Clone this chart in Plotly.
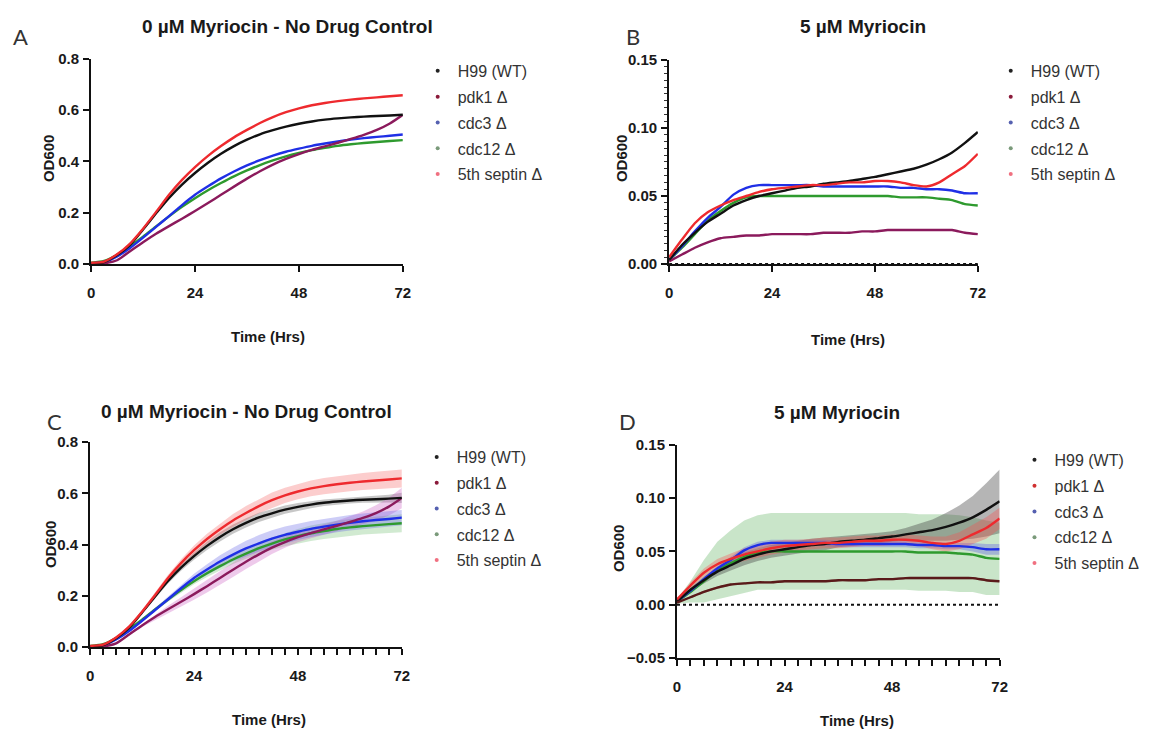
import numpy as np
import plotly.graph_objects as go

W, H = 1165, 751

hours = [0, 3, 6, 9, 12, 15, 18, 21, 24, 27, 30, 33, 36, 39, 42, 45, 48, 51, 54, 57, 60, 63, 66, 69, 72]
strains = ["H99 (WT)", "pdk1 Δ", "cdc3 Δ", "cdc12 Δ", "5th septin Δ"]

# ---- 0 µM Myriocin (panels A and C), mean OD600 ----
ctrl_h99 = [0.003, 0.008, 0.035, 0.075, 0.135, 0.198, 0.258, 0.31, 0.355, 0.395, 0.43, 0.46, 0.485, 0.506, 0.522, 0.536, 0.547, 0.556, 0.563, 0.568, 0.572, 0.575, 0.577, 0.579, 0.582]
ctrl_pdk1 = [0.0, 0.003, 0.015, 0.05, 0.085, 0.118, 0.148, 0.177, 0.207, 0.238, 0.27, 0.302, 0.333, 0.362, 0.388, 0.41, 0.429, 0.445, 0.459, 0.473, 0.488, 0.504, 0.523, 0.548, 0.582]
ctrl_cdc3 = [0.003, 0.008, 0.03, 0.063, 0.103, 0.145, 0.187, 0.23, 0.27, 0.303, 0.334, 0.361, 0.385, 0.405, 0.423, 0.438, 0.45, 0.461, 0.47, 0.478, 0.485, 0.491, 0.496, 0.5, 0.505]
ctrl_cdc12 = [0.005, 0.012, 0.036, 0.07, 0.107, 0.147, 0.186, 0.223, 0.257, 0.288, 0.316, 0.342, 0.365, 0.386, 0.404, 0.42, 0.433, 0.444, 0.453, 0.461, 0.467, 0.472, 0.476, 0.48, 0.483]
ctrl_septin5 = [0.005, 0.01, 0.038, 0.08, 0.138, 0.203, 0.27, 0.328, 0.378, 0.422, 0.46, 0.494, 0.523, 0.55, 0.573, 0.592, 0.607, 0.619, 0.628, 0.635, 0.641, 0.646, 0.65, 0.654, 0.658]

# ---- 0 µM Myriocin, SD (panel C bands) ----
ctrl_h99_sd = [0, 0, 0.002, 0.004, 0.006, 0.008, 0.01, 0.012, 0.014, 0.016, 0.018, 0.018, 0.018, 0.018, 0.017, 0.016, 0.015, 0.014, 0.013, 0.012, 0.012, 0.012, 0.013, 0.015, 0.02]
ctrl_pdk1_sd = [0, 0, 0.002, 0.004, 0.006, 0.01, 0.014, 0.018, 0.022, 0.025, 0.027, 0.028, 0.028, 0.027, 0.025, 0.022, 0.02, 0.02, 0.02, 0.02, 0.022, 0.025, 0.03, 0.035, 0.04]
ctrl_cdc3_sd = [0, 0, 0.002, 0.004, 0.006, 0.008, 0.01, 0.013, 0.016, 0.02, 0.024, 0.027, 0.03, 0.032, 0.033, 0.033, 0.032, 0.031, 0.03, 0.03, 0.03, 0.03, 0.03, 0.03, 0.03]
ctrl_cdc12_sd = [0, 0, 0.002, 0.003, 0.005, 0.006, 0.008, 0.01, 0.012, 0.014, 0.016, 0.018, 0.02, 0.022, 0.024, 0.026, 0.028, 0.03, 0.031, 0.032, 0.033, 0.033, 0.034, 0.034, 0.035]
ctrl_septin5_sd = [0, 0, 0.002, 0.004, 0.007, 0.01, 0.012, 0.015, 0.018, 0.02, 0.022, 0.025, 0.027, 0.028, 0.03, 0.03, 0.03, 0.031, 0.032, 0.032, 0.033, 0.033, 0.034, 0.034, 0.035]

# ---- 5 µM Myriocin (panels B and D), mean OD600 ----
myr_h99 = [0.003, 0.014, 0.023, 0.031, 0.037, 0.043, 0.047, 0.05, 0.052, 0.054, 0.056, 0.057, 0.059, 0.06, 0.061, 0.0625, 0.064, 0.066, 0.068, 0.07, 0.073, 0.077, 0.082, 0.089, 0.097]
myr_pdk1 = [0.002, 0.007, 0.012, 0.016, 0.019, 0.02, 0.021, 0.021, 0.022, 0.022, 0.022, 0.022, 0.023, 0.023, 0.023, 0.024, 0.024, 0.025, 0.025, 0.025, 0.025, 0.025, 0.025, 0.023, 0.022]
myr_cdc3 = [0.003, 0.013, 0.024, 0.034, 0.042, 0.051, 0.056, 0.058, 0.058, 0.058, 0.058, 0.058, 0.057, 0.057, 0.057, 0.057, 0.057, 0.057, 0.056, 0.056, 0.055, 0.055, 0.054, 0.052, 0.052]
myr_cdc12 = [0.003, 0.012, 0.022, 0.032, 0.039, 0.045, 0.049, 0.05, 0.05, 0.05, 0.05, 0.05, 0.05, 0.05, 0.05, 0.05, 0.05, 0.05, 0.049, 0.049, 0.049, 0.048, 0.047, 0.044, 0.043]
myr_septin5 = [0.005, 0.018, 0.03, 0.038, 0.043, 0.047, 0.05, 0.053, 0.055, 0.056, 0.057, 0.058, 0.058, 0.059, 0.06, 0.06, 0.061, 0.061, 0.06, 0.058, 0.057, 0.06, 0.066, 0.072, 0.081]

# ---- 5 µM Myriocin, SD (panel D bands) ----
myr_h99_sd = [0, 0.002, 0.003, 0.004, 0.005, 0.006, 0.006, 0.006, 0.006, 0.006, 0.006, 0.006, 0.005, 0.005, 0.005, 0.005, 0.005, 0.006, 0.008, 0.01, 0.013, 0.016, 0.02, 0.025, 0.03]
myr_pdk1_sd = [0, 0.001, 0.001, 0.001, 0.001, 0.001, 0.001, 0.001, 0.001, 0.001, 0.001, 0.001, 0.001, 0.001, 0.001, 0.001, 0.001, 0.001, 0.001, 0.001, 0.001, 0.001, 0.001, 0.001, 0.001]
myr_cdc3_sd = [0, 0.001, 0.002, 0.002, 0.003, 0.003, 0.003, 0.003, 0.003, 0.003, 0.003, 0.003, 0.003, 0.003, 0.003, 0.003, 0.003, 0.003, 0.003, 0.003, 0.003, 0.003, 0.004, 0.005, 0.005]
myr_cdc12_sd = [0.002, 0.01, 0.02, 0.027, 0.031, 0.034, 0.035, 0.036, 0.036, 0.036, 0.036, 0.036, 0.036, 0.036, 0.036, 0.036, 0.036, 0.036, 0.036, 0.036, 0.036, 0.036, 0.035, 0.035, 0.034]
myr_septin5_sd = [0, 0.003, 0.004, 0.005, 0.005, 0.006, 0.006, 0.006, 0.006, 0.005, 0.005, 0.005, 0.005, 0.005, 0.005, 0.005, 0.005, 0.005, 0.005, 0.006, 0.007, 0.008, 0.009, 0.01, 0.01]

x_ticks = [0, 24, 48, 72]
y_ticks_ctrl = [0.0, 0.2, 0.4, 0.6, 0.8]
y_ticks_myr = [0.0, 0.05, 0.10, 0.15]
y_ticks_myr_d = [-0.05, 0.0, 0.05, 0.10, 0.15]

line_colors = ["#111111", "#8b1a5c", "#1f2fe6", "#2e9a2e", "#ee2a2e"]
line_colors_d = ["#111111", "#5a1a1a", "#1f2fe6", "#2e9a2e", "#ee2a2e"]
band_colors = ["rgba(70,70,70,0.30)", "rgba(200,80,190,0.30)", "rgba(90,90,230,0.30)",
               "rgba(70,170,70,0.25)", "rgba(245,90,90,0.30)"]
band_colors_d = ["rgba(70,70,70,0.40)", "rgba(90,30,30,0.35)", "rgba(90,90,230,0.35)",
                 "rgba(120,190,120,0.40)", "rgba(245,80,80,0.35)"]
legend_dot_colors = ["#222222", "#8b1a3a", "#5560b0", "#7a9a7a", "#f07080"]
legend_dot_colors_d = ["#222222", "#d03030", "#5560b0", "#7a9a7a", "#f07080"]

ctrl_means = [ctrl_h99, ctrl_pdk1, ctrl_cdc3, ctrl_cdc12, ctrl_septin5]
ctrl_sds = [ctrl_h99_sd, ctrl_pdk1_sd, ctrl_cdc3_sd, ctrl_cdc12_sd, ctrl_septin5_sd]
myr_means = [myr_h99, myr_pdk1, myr_cdc3, myr_cdc12, myr_septin5]
myr_sds = [myr_h99_sd, myr_pdk1_sd, myr_cdc3_sd, myr_cdc12_sd, myr_septin5_sd]

FONT = "Liberation Sans, Arial, sans-serif"


def xdom(p0, p1):
    return [p0 / W, p1 / W]


def ydom(top, bot):
    return [1 - bot / H, 1 - top / H]


fig = go.Figure()

panels = [
    ("A", "", ctrl_means, None, line_colors, None, "legend", legend_dot_colors),
    ("B", "2", myr_means, None, line_colors, None, "legend2", legend_dot_colors),
    ("C", "3", ctrl_means, ctrl_sds, line_colors, band_colors, "legend3", legend_dot_colors),
    ("D", "4", myr_means, myr_sds, line_colors_d, band_colors_d, "legend4", legend_dot_colors_d),
]

line_order = [3, 2, 1, 0, 4]
line_order_d = [3, 2, 0, 4, 1]

for name, ax, means, sds, lcols, bcols, leg, dcols in panels:
    xa, ya = "x" + ax, "y" + ax
    t = np.array(hours, dtype=float)
    if sds is not None:
        band_order = [3, 0, 1, 2, 4]
        for i in band_order:
            m = np.array(means[i])
            s = np.array(sds[i])
            up, lo = m + s, m - s
            fig.add_trace(go.Scatter(
                x=np.concatenate([t, t[::-1]]), y=np.concatenate([up, lo[::-1]]),
                fill="toself", fillcolor=bcols[i], line=dict(width=0),
                mode="lines", hoverinfo="skip", showlegend=False, xaxis=xa, yaxis=ya))
    order = line_order_d if name == "D" else line_order
    for i in order:
        fig.add_trace(go.Scatter(
            x=hours, y=means[i], mode="lines",
            line=dict(color=lcols[i], width=2.4, shape="spline", smoothing=0.6),
            showlegend=False, xaxis=xa, yaxis=ya, name=strains[i]))
    for i in range(5):
        fig.add_trace(go.Scatter(
            x=[None], y=[None], mode="markers",
            marker=dict(size=4, color=dcols[i]),
            name=strains[i], legend=leg, legendgroup=name + str(i),
            xaxis=xa, yaxis=ya))

axis_common = dict(
    showline=True, linecolor="#111111", linewidth=2,
    ticks="outside", ticklen=6, tickwidth=2, tickcolor="#111111",
    showgrid=False, zeroline=False,
    tickfont=dict(family=FONT, size=15, color="#1a1a1a", weight="bold"),
)

geom = {
    "A": (88, 403, 51, 261),
    "B": (672, 984, 52, 261),
    "C": (87, 402, 443, 653),
    "D": (680, 1006, 446, 664),
}

lay = {}
for name, ax, *_ in panels:
    x0, x1, top, bot = geom[name]
    xk = "xaxis" + ax
    yk = "yaxis" + ax
    xd = dict(axis_common, domain=xdom(x0, x1), range=[0, 72], tickvals=x_ticks,
              anchor="y" + ax, ticklabelstandoff=8)
    if name in ("C", "D"):
        xd["minor"] = dict(dtick=3, ticklen=6, tickwidth=2, tickcolor="#111111", ticks="outside")
    if name in ("A", "C"):
        yd = dict(axis_common, domain=ydom(top, bot), range=[0, 0.8], tickvals=y_ticks_ctrl,
                  tickformat=".1f", anchor="x" + ax, ticklabelstandoff=1)
    elif name == "B":
        yd = dict(axis_common, domain=ydom(top, bot), range=[0, 0.15], tickvals=y_ticks_myr,
                  tickformat=".2f", anchor="x" + ax, ticklabelstandoff=1,
                  minor=dict(dtick=0.005, ticklen=3, tickwidth=1, tickcolor="#333333", ticks="outside"))
    else:
        yd = dict(axis_common, domain=ydom(top, bot), range=[-0.05, 0.15], tickvals=y_ticks_myr_d,
                  tickformat=".2f", anchor="x" + ax, ticklabelstandoff=1)
    lay[xk] = xd
    lay[yk] = yd

fig.update_layout(**lay)

# dotted zero lines in the myriocin panels
for ax in ("2", "4"):
    fig.add_shape(type="line", xref="x" + ax, yref="y" + ax, x0=0, x1=72, y0=0, y1=0,
                  line=dict(color="#111111", width=2, dash="dot"), layer="above")

legend_style = dict(font=dict(family=FONT, size=16, color="#333333"),
                    bgcolor="rgba(0,0,0,0)", xanchor="left", yanchor="top",
                    itemsizing="trace", tracegroupgap=2, itemwidth=30)
legend_pos = {"legend": (418, 46), "legend2": (997, 46), "legend3": (417, 441), "legend4": (1021, 444)}
for k, (lx, ly) in legend_pos.items():
    fig.update_layout(**{k: dict(legend_style, x=lx / W, y=1 - ly / H)})

ann = []


def add_text(text, px, py, size, bold=False, angle=0, family=FONT, color="#1a1a1a", anchor="center"):
    ann.append(dict(text=text, x=px / W, y=1 - py / H, xref="paper", yref="paper",
                    showarrow=False, xanchor=anchor, yanchor="middle", textangle=angle,
                    font=dict(family=family, size=size, color=color,
                              weight="bold" if bold else "normal")))


titles = {
    "A": ("0 µM Myriocin - No Drug Control", 286, 18),
    "B": ("5 µM Myriocin", 868, 18),
    "C": ("0 µM Myriocin - No Drug Control", 245, 412),
    "D": ("5 µM Myriocin", 842, 413),
}
letters = {"A": (17, 28), "B": (636, 28), "C": (51, 422), "D": (630, 422)}
xtitles = {"A": (267, 335), "B": (853, 338), "C": (268, 727), "D": (862, 728)}
ytitles = {"A": (45, 153), "B": (624, 153), "C": (47, 548), "D": (621, 552)}

for k in "ABCD":
    tt, tx, ty = titles[k]
    add_text(tt, tx, ty, 19, bold=True)
    add_text(k, letters[k][0], letters[k][1], 22, family="Lato, Open Sans, sans-serif", color="#333333")
    add_text("Time (Hrs)", xtitles[k][0], xtitles[k][1], 15, bold=True)
    add_text("OD600", ytitles[k][0], ytitles[k][1], 15, bold=True, angle=-90)

fig.update_layout(
    width=W, height=H, margin=dict(l=0, r=0, t=0, b=0),
    paper_bgcolor="white", plot_bgcolor="white",
    annotations=ann, showlegend=True,
)

fig.write_html("out.html", config={"displayModeBar": False},
               post_script="document.body.style.margin='0';document.body.style.overflow='hidden';")
